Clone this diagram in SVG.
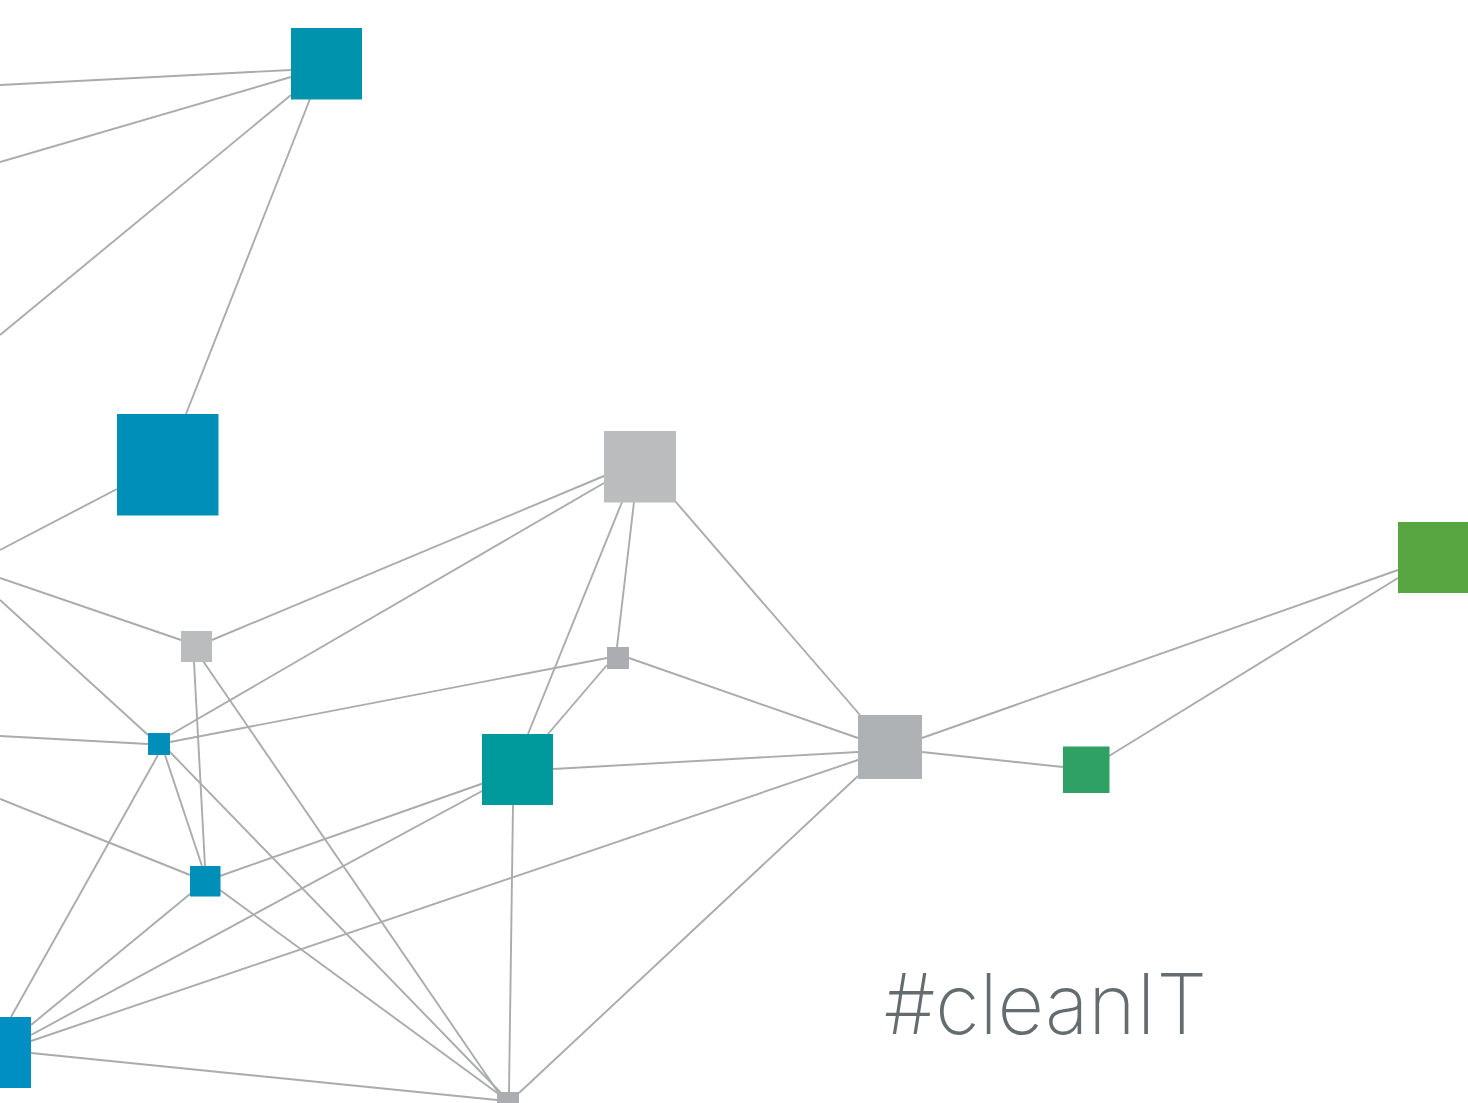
<svg xmlns="http://www.w3.org/2000/svg" width="1468" height="1103" viewBox="0 0 1468 1103">
<style>
#connectors line{stroke:#a9abad;stroke-width:1.9;fill:none}
.t{font-family:"Inter","Roboto",sans-serif;font-weight:200;font-size:84px;fill:#646c70}
</style>
<rect width="1468" height="1103" fill="#fff"/>
<g id="connectors">
<line x1="0" y1="85" x2="291" y2="70"/>
<line x1="0" y1="162" x2="291" y2="77"/>
<line x1="0" y1="335" x2="291" y2="95"/>
<line x1="186" y1="414" x2="310" y2="99"/>
<line x1="0" y1="550" x2="117" y2="489"/>
<line x1="0" y1="578" x2="181" y2="640"/>
<line x1="0" y1="600" x2="148" y2="735"/>
<line x1="0" y1="736" x2="148" y2="744"/>
<line x1="0" y1="799" x2="190" y2="875"/>
<line x1="212" y1="640" x2="604" y2="476"/>
<line x1="170" y1="735" x2="604" y2="483"/>
<line x1="170" y1="742" x2="607" y2="658"/>
<line x1="194" y1="662" x2="205" y2="866"/>
<line x1="203" y1="661" x2="498" y2="1092"/>
<line x1="165" y1="755" x2="202" y2="866"/>
<line x1="168" y1="750" x2="503" y2="1095"/>
<line x1="158" y1="755" x2="11" y2="1017"/>
<line x1="190" y1="894" x2="31" y2="1025"/>
<line x1="220" y1="890" x2="500" y2="1095"/>
<line x1="220" y1="876" x2="484" y2="783"/>
<line x1="484" y1="790" x2="31" y2="1035"/>
<line x1="858" y1="760" x2="31" y2="1041"/>
<line x1="31" y1="1053" x2="497" y2="1100"/>
<line x1="513" y1="805" x2="509" y2="1092"/>
<line x1="858" y1="776" x2="519" y2="1093"/>
<line x1="553" y1="769" x2="858" y2="752"/>
<line x1="528" y1="734" x2="622" y2="502"/>
<line x1="548" y1="734" x2="607" y2="665"/>
<line x1="617" y1="647" x2="634" y2="502"/>
<line x1="629" y1="658" x2="858" y2="738"/>
<line x1="675" y1="501" x2="860" y2="715"/>
<line x1="922" y1="738" x2="1398" y2="570"/>
<line x1="922" y1="752" x2="1063" y2="767"/>
<line x1="1109" y1="756" x2="1398" y2="578"/>
</g>
<g id="n1"><rect x="291" y="28" width="71" height="71.5" fill="#0093ae"/></g>
<g id="n2"><rect x="117" y="414" width="101.5" height="101.5" fill="#008fb8"/></g>
<g id="n3"><rect x="604" y="431" width="72" height="71.5" fill="#bbbcbe"/></g>
<g id="n4"><rect x="181" y="631" width="31" height="31" fill="#bbbcbe"/></g>
<g id="n5"><rect x="607" y="647" width="22" height="22" fill="#abadb0"/></g>
<g id="n6"><rect x="148" y="733" width="22" height="22" fill="#008fbb"/></g>
<g id="n7"><rect x="482" y="734" width="71" height="71" fill="#009a9c"/></g>
<g id="n8"><rect x="858" y="715" width="64" height="64" fill="#aeb2b5"/></g>
<g id="n9"><rect x="1063" y="746.5" width="46.5" height="46.5" fill="#2fa165"/></g>
<g id="n10"><rect x="1398" y="522" width="70" height="71" fill="#57a642"/></g>
<g id="n11"><rect x="190" y="866" width="30.5" height="30.5" fill="#008fb8"/></g>
<g id="n12"><rect x="0" y="1017" width="31" height="71" fill="#008fc2"/></g>
<g id="n13"><rect x="497" y="1092" width="22" height="11" fill="#abadb0"/></g>
<g id="label"><text class="t" x="884" y="1034" textLength="323" lengthAdjust="spacingAndGlyphs">#cleanIT</text></g>
</svg>
